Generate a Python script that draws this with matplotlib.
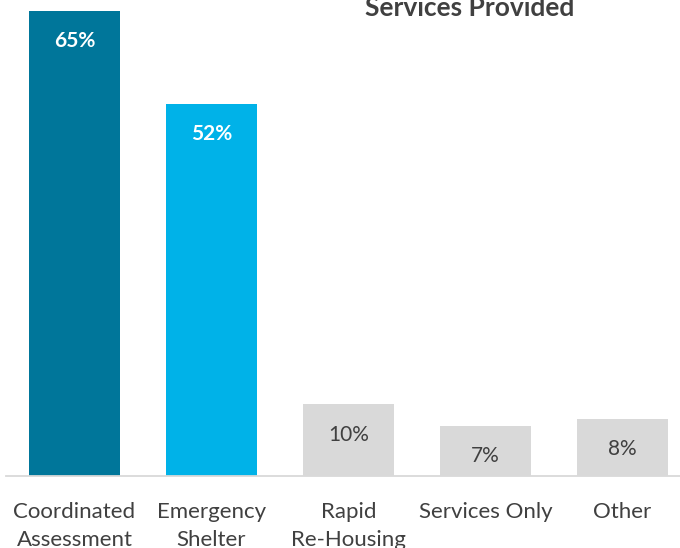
import matplotlib
matplotlib.use("Agg")
import matplotlib.pyplot as plt

# ── Data ───────────────────────────────────────────────────────────────
categories = ["Coordinated\nAssessment", "Emergency\nShelter", "Rapid\nRe-Housing",
              "Services Only", "Other"]
values = [65, 52, 10, 7, 8]
value_labels = ["65%", "52%", "10%", "7%", "8%"]
colors = ["#00769A", "#00B2E8", "#D9D9D9", "#D9D9D9", "#D9D9D9"]
label_colors = ["white", "white", "#404040", "#404040", "#404040"]
label_weights = ["bold", "bold", "normal", "normal", "normal"]

plt.rcParams["font.family"] = ["Lato", "DejaVu Sans"]

fig = plt.figure(figsize=(6.8, 5.48), dpi=100)
ax = fig.add_axes([6 / 680, 72 / 548, 685 / 680, 476 / 548])

x = range(len(categories))
ax.bar(x, values, width=0.67, color=colors, zorder=2)

for i, (v, lab) in enumerate(zip(values, value_labels)):
    ax.annotate(lab, (i, v), xytext=(0, -22), textcoords="offset points",
                ha="center", va="center", fontsize=15, color=label_colors[i],
                fontweight=label_weights[i])

ax.set_xlim(-0.5, 4.5)
ax.set_ylim(0, 66.5)
ax.set_xticks(list(x))
ax.set_xticklabels(categories, fontsize=16, color="#404040", linespacing=1.45)
ax.tick_params(axis="x", length=0, pad=19)
ax.set_yticks([])
for side in ["top", "right", "left"]:
    ax.spines[side].set_visible(False)
ax.spines["bottom"].set_color("#D9D9D9")
ax.spines["bottom"].set_linewidth(1.3)

fig.text(470 / 680, 1 - 16 / 548, "Services Provided", ha="center", va="baseline",
         fontsize=19, fontweight="bold", color="#404040")

fig.savefig("out.png", dpi=100)
